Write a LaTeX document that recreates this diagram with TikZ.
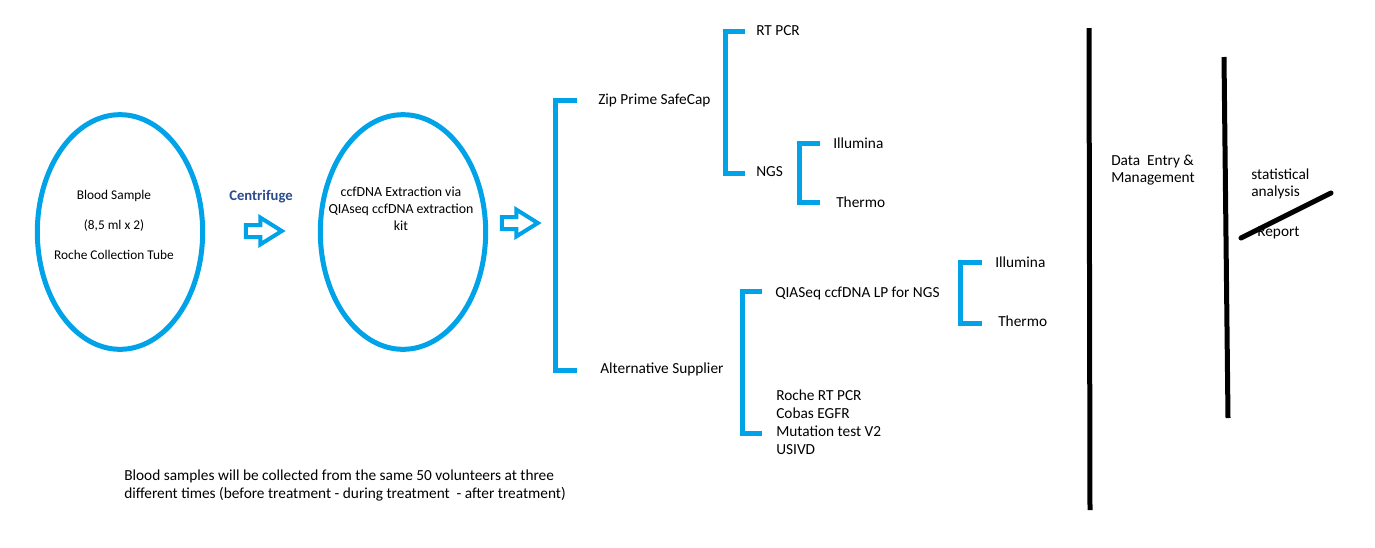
\documentclass[tikz,border=0pt]{standalone}
\usepackage{fontspec}
\setmainfont{Carlito}
\usetikzlibrary{shapes.geometric,shapes.arrows,positioning,calc}
\definecolor{paintblue}{HTML}{00A2E8}
\definecolor{labelblue}{HTML}{2A4B8D}

\begin{document}
\begin{tikzpicture}[x=0.75pt,y=-0.75pt,
	every node/.style={font=\fontsize{11.5pt}{13.5pt}\selectfont},
	txt/.style={inner sep=0pt,anchor=west},
	blob/.style={ellipse,draw=paintblue,line width=3.75pt,minimum width=124pt,minimum height=176pt},
	fat/.style={single arrow,draw=paintblue,line width=3pt,inner sep=3pt,single arrow head extend=5.5pt,single arrow tip angle=64,minimum height=27pt},
	brk/.style={draw=paintblue,line width=3.75pt},
	bar/.style={draw=black,line width=3.75pt}]
	\useasboundingbox (0,0) rectangle (1375,547);

	% sample and extraction
	\node[blob] (blood) at (120,232) {};
	\node[align=center,inner sep=0pt,font=\fontsize{10pt}{22.5pt}\selectfont] (bloodtxt) at (114,225) {Blood Sample\\(8,5 ml x 2)\\Roche Collection Tube};
	\node[fat] (arr1) at (259,231) {};
	\node[font=\bfseries\fontsize{11pt}{13pt}\selectfont,text=labelblue] (spin) at (261,197) {Centrifuge};
	\node[blob] (extract) at (403,232) {};
	\node[align=center,inner sep=0pt,font=\fontsize{10.4pt}{12.75pt}\selectfont] (extracttxt) at (401,209) {ccfDNA Extraction via\\QIAseq ccfDNA extraction\\kit};
	\node[fat] (arr2) at (515,223) {};

	% suppliers and tests
	\node[txt] (zip) at (598,100) {Zip Prime SafeCap};
	\node[txt] (alt) at (600,369) {Alternative Supplier};
	\node[txt] (rtpcr) at (756,31) {RT PCR};
	\node[txt] (ngs) at (756,172) {NGS};
	\node[txt] (illA) at (833,143) {Illumina};
	\node[txt] (thermoA) at (836,202) {Thermo};
	\node[txt] (qiaseq) at (775,293) {QIASeq ccfDNA LP for NGS};
	\node[txt,align=left] (cobas) at (776,422) {Roche RT PCR\\Cobas EGFR\\Mutation test V2\\USIVD};
	\node[txt] (illB) at (995,262) {Illumina};
	\node[txt] (thermoB) at (998,321) {Thermo};

	\draw[brk] ($(zip.west)+(-21,0)$) -| ($(alt.west)+(-45,1)$) -- ($(alt.west)+(-23,1)$);
	\draw[brk] ($(rtpcr.west)+(-11,0)$) -| ($(ngs.west)+(-31,1)$) -- ($(ngs.west)+(-11,1)$);
	\draw[brk] ($(illA.west)+(-13,0)$) -| ($(thermoA.west)+(-37,0)$) -- ($(thermoA.west)+(-16,0)$);
	\draw[brk] ($(qiaseq.west)+(-13,-2)$) -| ($(cobas.west)+(-34,11)$) -- ($(cobas.west)+(-14,11)$);
	\draw[brk] ($(illB.west)+(-13,0)$) -| ($(thermoB.west)+(-38,2)$) -- ($(thermoB.west)+(-16,2)$);

	% data handling
	\node[txt,align=left,font=\fontsize{11.5pt}{12.75pt}\selectfont] (dem) at (1111,170) {Data\ \ Entry \&\\Management};
	\node[txt,align=left,font=\fontsize{11.5pt}{13.1pt}\selectfont] (stats) at (1251,184) {statistical\\analysis};
	\node[txt] (report) at (1257,233) {Report};
	\draw[bar] (1089,28) -- (1090,510);
	\draw[bar] (1224,57) -- (1228,418);
	\draw[bar,line cap=round] (1241,238) -- (1331,193);

	\node[txt,align=left] (note) at (124,485) {Blood samples will be collected from the same 50 volunteers at three\\different times (before treatment - during treatment\ \ - after treatment)};
\end{tikzpicture}
\end{document}
